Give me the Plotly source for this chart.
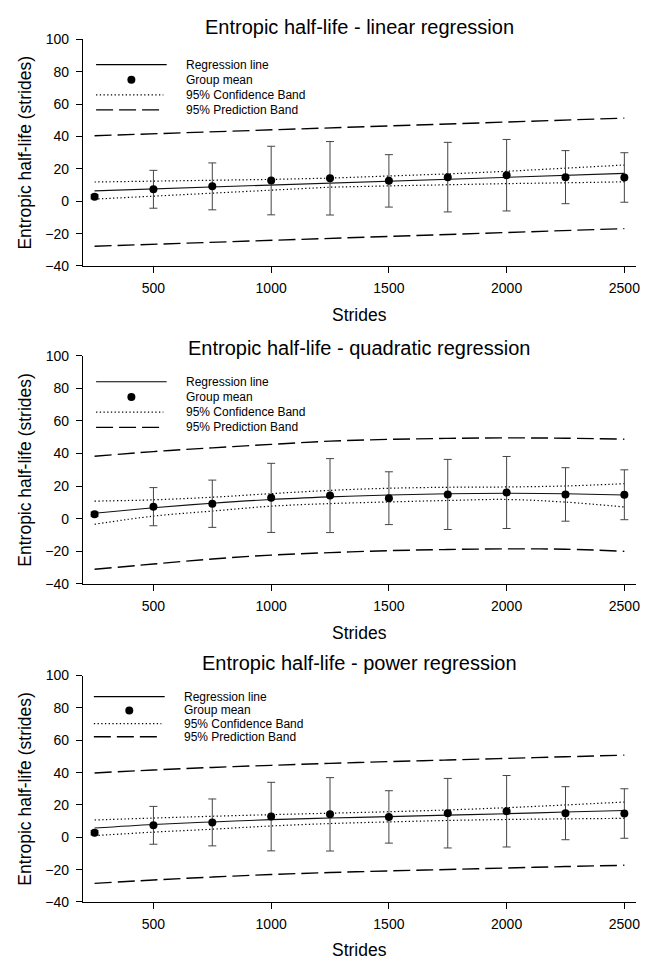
import plotly.graph_objects as go

# ---------------- data ----------------
strides = [250, 500, 750, 1000, 1250, 1500, 1750, 2000, 2250, 2500]
group_mean = [2.8, 7.4, 9.2, 12.8, 14.2, 12.6, 14.9, 16.1, 14.9, 14.7]
group_err = [1.3, 11.7, 14.5, 21.2, 22.7, 16.2, 21.5, 22.1, 16.4, 15.3]

# linear regression
lin_fit = [6.4, 7.6, 8.8, 10.0, 11.2, 12.4, 13.6, 14.8, 16.0, 17.2]
lin_ci_hi = [11.9, 12.3, 12.8, 13.5, 14.3, 15.4, 16.9, 18.5, 20.4, 22.4]
lin_ci_lo = [1.3, 3.2, 5.1, 7.1, 8.7, 9.5, 10.3, 10.9, 11.4, 12.0]
lin_pi_hi = [40.5, 41.7, 42.9, 44.1, 45.3, 46.5, 47.7, 48.9, 50.1, 51.4]
lin_pi_lo = [-27.8, -26.6, -25.3, -24.1, -22.9, -21.7, -20.5, -19.3, -18.1, -16.9]

# quadratic regression
quad_fit = [3.4, 6.7, 9.5, 11.8, 13.4, 14.6, 15.3, 15.6, 15.3, 14.6]
quad_ci_hi = [10.8, 11.6, 13.2, 15.4, 17.4, 18.7, 19.3, 19.5, 20.1, 21.5]
quad_ci_lo = [-3.4, 1.6, 4.7, 7.7, 9.3, 10.3, 11.2, 11.8, 10.2, 7.2]
quad_pi_hi = [38.3, 41.2, 43.5, 45.6, 47.6, 48.7, 49.3, 49.6, 49.4, 48.8]
quad_pi_lo = [-31.0, -27.8, -24.7, -22.3, -20.8, -19.6, -18.9, -18.5, -18.7, -20.0]

# power regression
pow_fit = [5.7, 7.9, 9.5, 10.9, 11.9, 12.8, 13.7, 14.6, 15.6, 16.6]
pow_ci_hi = [10.7, 11.9, 13.0, 14.0, 14.9, 15.8, 16.9, 18.3, 20.0, 21.8]
pow_ci_lo = [1.0, 3.2, 5.0, 7.0, 8.5, 9.5, 10.4, 11.0, 11.4, 11.7]
pow_pi_hi = [39.8, 41.6, 43.2, 44.5, 45.7, 46.8, 47.8, 48.8, 49.8, 50.8]
pow_pi_lo = [-28.5, -26.4, -24.6, -23.0, -21.8, -20.8, -19.9, -19.0, -18.1, -17.3]

titles = ["Entropic half-life - linear regression",
          "Entropic half-life - quadratic regression",
          "Entropic half-life - power regression"]
legend_labels = ["Regression line", "Group mean", "95% Confidence Band", "95% Prediction Band"]
x_title = "Strides"
y_title = "Entropic half-life (strides)"
x_ticks = [500, 1000, 1500, 2000, 2500]
y_ticks = [-40, -20, 0, 20, 40, 60, 80, 100]

panels = [
    (lin_fit, lin_ci_hi, lin_ci_lo, lin_pi_hi, lin_pi_lo),
    (quad_fit, quad_ci_hi, quad_ci_lo, quad_pi_hi, quad_pi_lo),
    (pow_fit, pow_ci_hi, pow_ci_lo, pow_pi_hi, pow_pi_lo),
]

# ---------------- layout geometry ----------------
W, H = 660, 968
FONT = "Liberation Sans, Arial, sans-serif"
def py(p):
    return 1 - p / H
def px(p):
    return p / W

x_dom = [px(83.3), px(640)]
y_doms = [[py(262.3), py(32.0)], [py(585.6), py(353.6)], [py(909.0), py(678.8)]]
title_y = [19, 346, 666]
xlabel_y = [312, 636, 958]
leg_rows = [[0.889, 0.822, 0.755, 0.689], [0.886, 0.819, 0.753, 0.686], [0.907, 0.846, 0.788, 0.730]]
leg_x0 = [0.024, 0.024, 0.020]
leg_x1 = [0.1516, 0.1516, 0.148]
leg_tx = [0.1836, 0.1836, 0.180]

DOT = "1.3px,2.4px"
DASH = "17px,6px"

fig = go.Figure()
layout = dict(width=W, height=H, margin=dict(l=0, r=0, t=0, b=0),
              paper_bgcolor="white", plot_bgcolor="white", showlegend=False,
              font=dict(family=FONT, color="black"))
annotations = []
shapes = []

for i, (fit, ci_hi, ci_lo, pi_hi, pi_lo) in enumerate(panels):
    n = "" if i == 0 else str(i + 1)
    xa, ya = "x" + n, "y" + n
    shp = "spline" if i > 0 else "linear"
    common = dict(x=strides, xaxis=xa, yaxis=ya, mode="lines", hoverinfo="skip")
    fig.add_trace(go.Scatter(y=pi_hi, line=dict(color="black", width=1.4, dash=DASH, shape=shp), **common))
    fig.add_trace(go.Scatter(y=pi_lo, line=dict(color="black", width=1.4, dash=DASH, shape=shp), **common))
    fig.add_trace(go.Scatter(y=ci_hi, line=dict(color="black", width=1.2, dash=DOT, shape=shp), **common))
    fig.add_trace(go.Scatter(y=ci_lo, line=dict(color="black", width=1.2, dash=DOT, shape=shp), **common))
    fig.add_trace(go.Scatter(y=fit, line=dict(color="#111", width=1.1, shape=shp), **common))
    fig.add_trace(go.Scatter(x=strides, y=group_mean, xaxis=xa, yaxis=ya, mode="markers",
                             marker=dict(color="black", size=8),
                             error_y=dict(type="data", array=group_err, visible=True,
                                          thickness=1, width=4, color="#444")))

    layout["xaxis" + n] = dict(domain=x_dom, anchor=ya, range=[200, 2550],
                               tickvals=x_ticks, showline=True, linecolor="black", linewidth=1,
                               ticks="outside", ticklen=6, tickcolor="black", tickwidth=1,
                               showgrid=False, zeroline=False,
                               tickfont=dict(size=14, family=FONT), ticklabelstandoff=3)
    layout["yaxis" + n] = dict(domain=y_doms[i], anchor=xa, range=[-40, 100],
                               tickvals=y_ticks, showline=True, linecolor="black", linewidth=1,
                               ticks="outside", ticklen=6, tickcolor="black", tickwidth=1,
                               showgrid=False, zeroline=False,
                               tickfont=dict(size=14, family=FONT), ticklabelstandoff=4)

    xc = (x_dom[0] + x_dom[1]) / 2
    annotations.append(dict(text=titles[i], xref="paper", yref="paper", x=xc, y=py(title_y[i]),
                            xanchor="center", yanchor="middle", showarrow=False,
                            font=dict(size=20, family=FONT)))
    annotations.append(dict(text=x_title, xref="paper", yref="paper", x=xc, y=py(xlabel_y[i]),
                            xanchor="center", yanchor="middle", showarrow=False,
                            font=dict(size=17.5, family=FONT)))
    annotations.append(dict(text=y_title, xref="paper", yref="paper", x=px(25),
                            y=(y_doms[i][0] + y_doms[i][1]) / 2, textangle=-90,
                            xanchor="center", yanchor="middle", showarrow=False,
                            font=dict(size=17.5, family=FONT)))

    # legend
    rows = leg_rows[i]
    xr, yr = xa + " domain", ya + " domain"
    shapes.append(dict(type="line", xref=xr, yref=yr, x0=leg_x0[i], x1=leg_x1[i], y0=rows[0], y1=rows[0],
                       line=dict(color="black", width=1.1)))
    mx = (leg_x0[i] + leg_x1[i]) / 2
    shapes.append(dict(type="circle", xref=xr, yref=yr, xsizemode="pixel", ysizemode="pixel",
                       xanchor=mx, yanchor=rows[1], x0=-4, x1=4, y0=-4, y1=4,
                       fillcolor="black", line=dict(color="black", width=0)))
    shapes.append(dict(type="line", xref=xr, yref=yr, x0=leg_x0[i], x1=leg_x1[i] - 0.006, y0=rows[2], y1=rows[2],
                       line=dict(color="black", width=1.2, dash=DOT)))
    shapes.append(dict(type="line", xref=xr, yref=yr, x0=leg_x0[i], x1=leg_x1[i] - 0.01, y0=rows[3], y1=rows[3],
                       line=dict(color="black", width=1.4, dash=DASH)))
    for r, lab in zip(rows, legend_labels):
        annotations.append(dict(text=lab, xref=xr, yref=yr, x=leg_tx[i], y=r,
                                xanchor="left", yanchor="middle", showarrow=False,
                                font=dict(size=12, family=FONT)))

layout["annotations"] = annotations
layout["shapes"] = shapes
fig.update_layout(**layout)
fig.write_html("out.html")
